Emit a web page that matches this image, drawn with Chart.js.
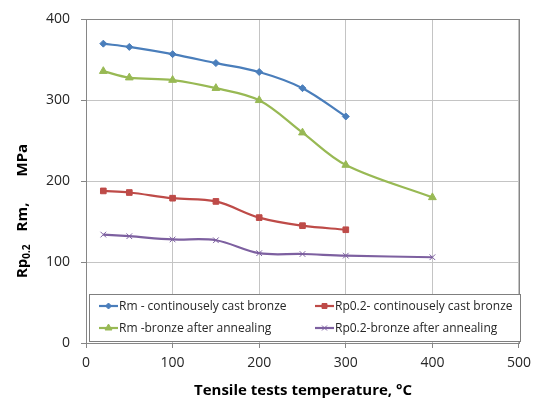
<!DOCTYPE html>
<html>
<head>
<meta charset="utf-8">
<script src="https://cdn.jsdelivr.net/npm/chart.js@4/dist/chart.umd.min.js"></script>
<style>
  html, body { margin: 0; padding: 0; background: #fff; }
  #wrap { width: 538px; height: 403px; }
</style>
</head>
<body>
<div id="wrap"><canvas id="tensileChart" width="538" height="403"></canvas></div>
<script>
// Data
var tempsCast = [20, 50, 100, 150, 200, 250, 300];
var tempsAnneal = [20, 50, 100, 150, 200, 250, 300, 400];
var rmCast = [370, 366, 357, 346, 335, 315, 280];
var rpCast = [188, 186, 179, 175, 155, 145, 140];
var rmAnneal = [336, 328, 325, 315, 300, 260, 220, 180];
var rpAnneal = [134, 132, 128, 127, 111, 110, 108, 106];
var xTicks = [0, 100, 200, 300, 400, 500];
var yTicks = [0, 100, 200, 300, 400];

var seriesLabels = [
  "Rm - continousely cast bronze",
  "Rp0.2- continousely cast bronze",
  "Rm -bronze after annealing",
  "Rp0.2-bronze after annealing"
];

function points(xs, ys) {
  return xs.map(function (x, i) { return { x: x, y: ys[i] }; });
}

var FONT = "'Open Sans', 'DejaVu Sans', sans-serif";

var colors = ["#4a7ebb", "#be4b48", "#98b954", "#7d60a0"];
var markers = ["rectRot", "rect", "triangle", "crossRot"];
var radii = [3.5, 4, 4.5, 4];

var seriesData = [
  points(tempsCast, rmCast),
  points(tempsCast, rpCast),
  points(tempsAnneal, rmAnneal),
  points(tempsAnneal, rpAnneal)
];

var datasets = seriesData.map(function (d, i) {
  return {
    label: seriesLabels[i],
    data: d,
    borderColor: colors[i],
    backgroundColor: colors[i],
    pointBackgroundColor: colors[i],
    pointBorderColor: colors[i],
    pointStyle: markers[i],
    pointRadius: radii[i],
    pointBorderWidth: 1,
    borderWidth: 2.2,
    tension: 0.35,
    fill: false
  };
});

// border, titles, and legend box inside the plot
var decorations = {
  id: "decorations",
  afterDraw: function (chart) {
    var ctx = chart.ctx;
    var a = chart.chartArea;
    ctx.save();

    // plot border
    ctx.strokeStyle = "#868686";
    ctx.lineWidth = 1;
    ctx.strokeRect(Math.round(a.left) + 0.5, Math.round(a.top) + 0.5,
      Math.round(a.right - a.left), Math.round(a.bottom - a.top));

    // legend box
    var lx = 89, ly = 294, lw = 431, lh = 47;
    ctx.fillStyle = "#ffffff";
    ctx.fillRect(lx, ly, lw, lh);
    ctx.strokeStyle = "#7f7f7f";
    ctx.strokeRect(lx + 0.5, ly + 0.5, lw, lh);
    var cols = [99, 315];
    var rows = [306, 328];
    ctx.textBaseline = "middle";
    ctx.textAlign = "left";
    chart.data.datasets.forEach(function (ds, i) {
      var cx = cols[i % 2], cy = rows[Math.floor(i / 2)];
      ctx.strokeStyle = ds.borderColor;
      ctx.lineWidth = 2.2;
      ctx.beginPath();
      ctx.moveTo(cx, cy);
      ctx.lineTo(cx + 19, cy);
      ctx.stroke();
      ctx.fillStyle = ds.pointBackgroundColor;
      ctx.strokeStyle = ds.pointBorderColor;
      ctx.lineWidth = 1;
      Chart.helpers.drawPoint(ctx, {
        pointStyle: ds.pointStyle,
        radius: ds.pointRadius - 0.5,
        borderWidth: 1
      }, cx + 9.5, cy);
      ctx.font = "12px " + FONT;
      ctx.fillStyle = "#262626";
      ctx.fillText(ds.label, cx + 20, cy + 1);
    });

    // x title
    ctx.fillStyle = "#000";
    ctx.font = "bold 15px " + FONT;
    ctx.textAlign = "center";
    ctx.textBaseline = "middle";
    ctx.fillText("Tensile tests temperature, \u00B0C", 303, 391);

    // y title, rotated, with subscript
    ctx.translate(23, 211);
    ctx.rotate(-Math.PI / 2);
    var big = "bold 15px " + FONT, small = "bold 10px " + FONT;
    var parts = [
      { t: "Rp", f: big, dy: 0, gap: 0 },
      { t: "0.2", f: small, dy: 4, gap: 13 },
      { t: "Rm,", f: big, dy: 0, gap: 26 },
      { t: "MPa", f: big, dy: 0, gap: 0 }
    ];
    var total = 0;
    parts.forEach(function (p) { ctx.font = p.f; p.w = ctx.measureText(p.t).width; total += p.w + p.gap; });
    var x = -total / 2;
    ctx.textAlign = "left";
    parts.forEach(function (p) {
      ctx.font = p.f;
      ctx.fillText(p.t, x, p.dy);
      x += p.w + p.gap;
    });
    ctx.restore();
  }
};

var ctxEl = document.getElementById("tensileChart").getContext("2d");

var chart = new Chart(ctxEl, {
  type: "line",
  data: { datasets: datasets },
  options: {
    responsive: false,
    animation: false,
    layout: { padding: { left: 0, right: 16, top: 17, bottom: 0 } },
    plugins: {
      legend: { display: false },
      tooltip: { enabled: false }
    },
    scales: {
      x: {
        type: "linear",
        min: 0,
        max: 500,
        afterBuildTicks: function (s) { s.ticks = xTicks.map(function (v) { return { value: v }; }); },
        afterFit: function (s) { s.height = 60; },
        grid: { color: "#c4c4c4", lineWidth: 1, tickLength: 5, tickColor: "#868686" },
        border: { color: "#868686" },
        ticks: { padding: 7, color: "#262626", font: { size: 14, family: FONT } }
      },
      y: {
        min: 0,
        max: 400,
        afterBuildTicks: function (s) { s.ticks = yTicks.map(function (v) { return { value: v }; }); },
        afterFit: function (s) { s.width = 86; },
        grid: { color: "#c4c4c4", lineWidth: 1, tickLength: 5, tickColor: "#868686" },
        border: { color: "#868686" },
        ticks: { padding: 11, color: "#262626", font: { size: 14, family: FONT } }
      }
    }
  },
  plugins: [decorations]
});
</script>
</body>
</html>
